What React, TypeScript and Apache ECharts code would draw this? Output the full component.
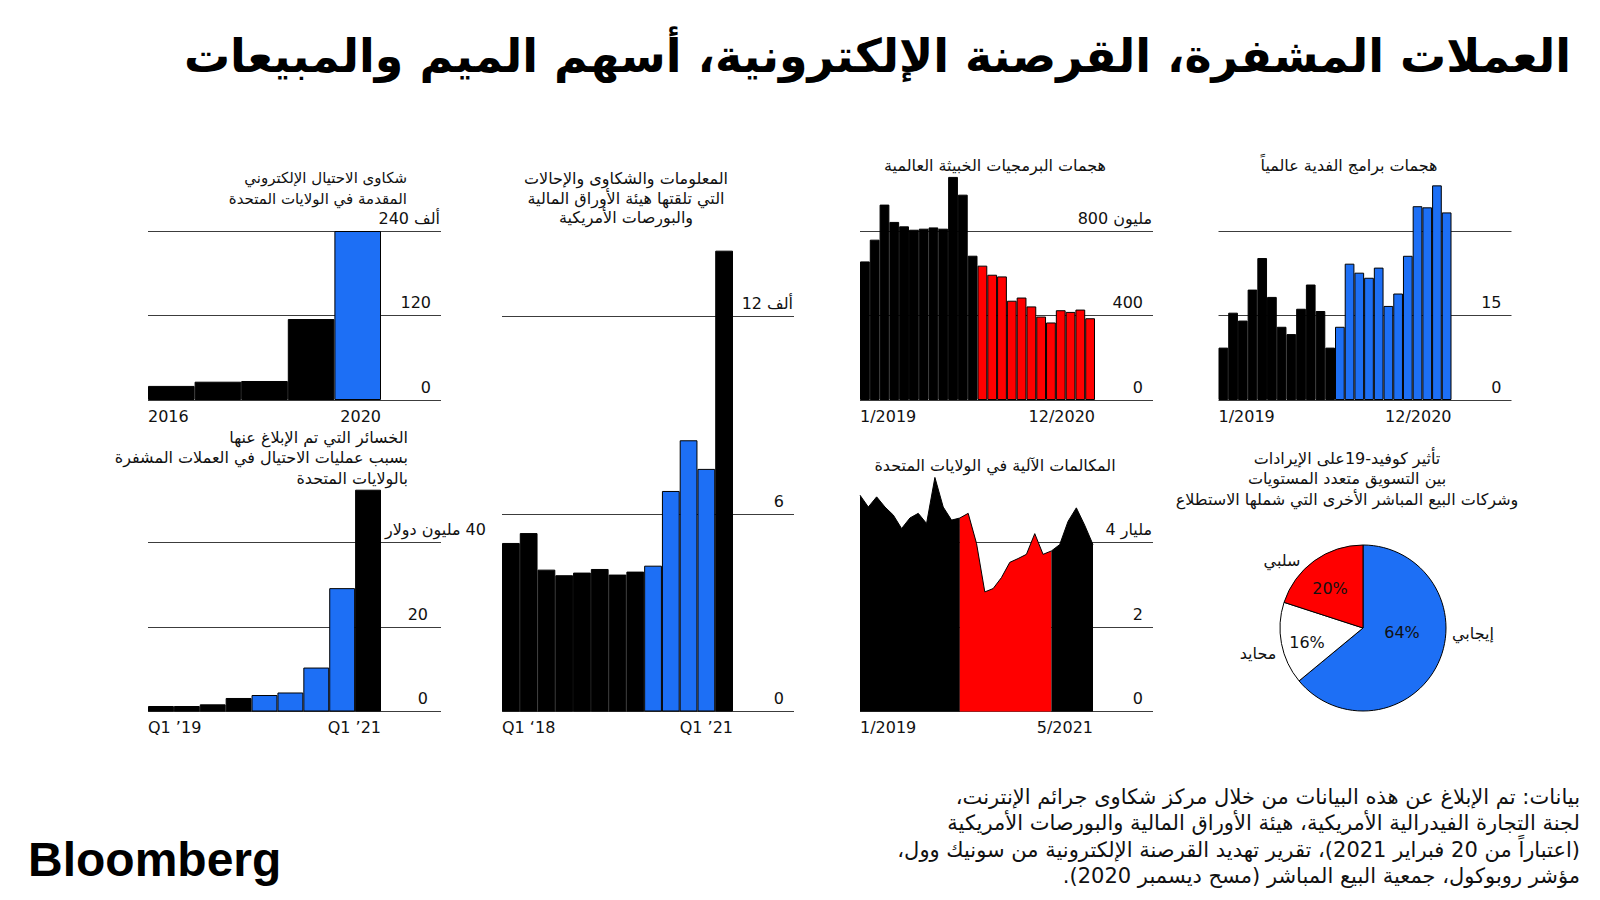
import React, { useEffect, useRef } from 'react';
import * as echarts from 'echarts';

// ---------- colours & fonts ----------
const BLUE = '#1d6ff5';
const RED = '#ff0000';
const INK = '#111111';
const GRID_LINE = '#3c3c3c';
const LATIN = "'DejaVu Sans', 'Liberation Sans', sans-serif";
const ARABIC = "'DejaVu Sans', sans-serif";
const LOGO_FONT = "'Liberation Sans', Arial, sans-serif";

const RTL = (s: string) => '\u202B' + s + '\u202C';

// ---------- data ----------
// Panel 1: internet fraud complaints filed in the US (thousands)
const IC3_YEARS = ['2016', '2017', '2018', '2019', '2020'];
const IC3_COMPLAINTS = [20, 26, 27, 115, 240];
const IC3_TICKS = ['0', '120', '240 ألف'];
const IC3_X_LABELS = ['2016', '2020'];

// Panel 2: reported crypto fraud losses in the US ($ millions)
const CRYPTO_QUARTERS = ['Q1 2019', 'Q2 2019', 'Q3 2019', 'Q4 2019', 'Q1 2020', 'Q2 2020', 'Q3 2020', 'Q4 2020', 'Q1 2021'];
const CRYPTO_LOSSES = [1.3, 1.3, 1.7, 3.2, 3.9, 4.5, 10.4, 29.2, 52.5];
const CRYPTO_TICKS = ['0', '20', '40 مليون دولار'];
const CRYPTO_X_LABELS = ['Q1 \u201919', 'Q1 \u201921'];

// Panel 3: SEC tips, complaints and referrals (thousands)
const SEC_QUARTERS = ['Q1 2018', 'Q2 2018', 'Q3 2018', 'Q4 2018', 'Q1 2019', 'Q2 2019', 'Q3 2019', 'Q4 2019', 'Q1 2020', 'Q2 2020', 'Q3 2020', 'Q4 2020', 'Q1 2021'];
const SEC_TIPS = [5.12, 5.42, 4.31, 4.14, 4.22, 4.33, 4.16, 4.25, 4.43, 6.7, 8.24, 7.37, 14.0];
const SEC_TICKS = ['0', '6', '12 ألف'];
const SEC_X_LABELS = ['Q1 \u201818', 'Q1 \u201921'];

// Panel 4: global malware attacks (millions)
const MONTHS_19_20 = ['1/2019', '2/2019', '3/2019', '4/2019', '5/2019', '6/2019', '7/2019', '8/2019', '9/2019', '10/2019', '11/2019', '12/2019', '1/2020', '2/2020', '3/2020', '4/2020', '5/2020', '6/2020', '7/2020', '8/2020', '9/2020', '10/2020', '11/2020', '12/2020'];
const MALWARE = [656, 759, 925, 843, 822, 806, 811, 817, 811, 1056, 972, 683, 636, 593, 585, 470, 485, 443, 395, 367, 425, 417, 428, 387];
const MALWARE_TICKS = ['0', '400', '800 مليون'];
const MALWARE_X_LABELS = ['1/2019', '12/2020'];

// Panel 5: global ransomware attacks (millions)
const RANSOMWARE = [9.3, 15.5, 14.1, 19.6, 25.2, 18.3, 13.0, 11.7, 16.2, 20.5, 15.8, 9.3, 13.0, 24.2, 22.6, 21.7, 23.5, 16.7, 18.9, 25.6, 34.4, 34.2, 38.1, 33.3];
const RANSOMWARE_TICKS = ['0', '15', ''];
const RANSOMWARE_X_LABELS = ['1/2019', '12/2020'];

// Panel 6: US robocalls (billions)
const MONTHS_19_21 = ['1/2019', '2/2019', '3/2019', '4/2019', '5/2019', '6/2019', '7/2019', '8/2019', '9/2019', '10/2019', '11/2019', '12/2019', '1/2020', '2/2020', '3/2020', '4/2020', '5/2020', '6/2020', '7/2020', '8/2020', '9/2020', '10/2020', '11/2020', '12/2020', '1/2021', '2/2021', '3/2021', '4/2021', '5/2021'];
const ROBOCALLS = [5.12, 4.84, 5.08, 4.84, 4.65, 4.33, 4.58, 4.69, 4.45, 5.54, 4.84, 4.53, 4.58, 4.69, 3.98, 2.83, 2.91, 3.17, 3.53, 3.62, 3.72, 4.21, 3.72, 3.8, 3.95, 4.5, 4.82, 4.41, 3.95];
const ROBOCALL_TICKS = ['0', '2', '4 مليار'];
const ROBOCALL_X_LABELS = ['1/2019', '5/2021'];

// Panel 7: Covid-19 impact on revenue (%)
const PIE_NAMES = ['إيجابي', 'محايد', 'سلبي'];
const PIE_VALUES = [64, 16, 20];
const PIE_COLORS = [BLUE, '#ffffff', RED];

// ---------- texts ----------
const MAIN_TITLE = 'العملات المشفرة، القرصنة الإلكترونية، أسهم الميم والمبيعات';
const T1 = ['شكاوى الاحتيال الإلكتروني', 'المقدمة في الولايات المتحدة'];
const T2 = ['الخسائر التي تم الإبلاغ عنها', 'بسبب عمليات الاحتيال في العملات المشفرة', 'بالولايات المتحدة'];
const T3 = ['المعلومات والشكاوى والإحالات', 'التي تلقتها هيئة الأوراق المالية', 'والبورصات الأمريكية'];
const T4 = 'هجمات البرمجيات الخبيثة العالمية';
const T5 = 'هجمات برامج الفدية عالمياً';
const T6 = 'المكالمات الآلية في الولايات المتحدة';
const T7 = ['تأثير كوفيد-19على الإيرادات', 'بين التسويق متعدد المستويات', 'وشركات البيع المباشر الأخرى التي شملها الاستطلاع'];
const SOURCE = [
  'بيانات: تم الإبلاغ عن هذه البيانات من خلال مركز شكاوى جرائم الإنترنت،',
  'لجنة التجارة الفيدرالية الأمريكية، هيئة الأوراق المالية والبورصات الأمريكية',
  '(اعتباراً من 20 فبراير 2021)، تقرير تهديد القرصنة الإلكترونية من سونيك وول،',
  'مؤشر روبوكول، جمعية البيع المباشر (مسح ديسمبر 2020).',
];

// ---------- layout ----------
type Panel = {
  left: number; top: number; height: number; plotWidth: number; gridWidth: number;
  max: number; interval: number; ticks: string[]; xLabels: string[];
  cats: string[]; values: number[]; hi: string; kind: 'bar' | 'area';
  labelsByBars?: boolean; numberRight?: boolean;
};

const PANELS: Panel[] = [
  { left: 148, top: 231, height: 169, plotWidth: 233, gridWidth: 293, max: 240, interval: 120, ticks: IC3_TICKS, xLabels: IC3_X_LABELS, cats: IC3_YEARS, values: IC3_COMPLAINTS, hi: BLUE, kind: 'bar' },
  { left: 148, top: 542.5, height: 169, plotWidth: 233, gridWidth: 293, max: 40, interval: 20, ticks: CRYPTO_TICKS, xLabels: CRYPTO_X_LABELS, cats: CRYPTO_QUARTERS, values: CRYPTO_LOSSES, hi: BLUE, kind: 'bar', labelsByBars: true, numberRight: true },
  { left: 502, top: 316.5, height: 395, plotWidth: 231, gridWidth: 292, max: 12, interval: 6, ticks: SEC_TICKS, xLabels: SEC_X_LABELS, cats: SEC_QUARTERS, values: SEC_TIPS, hi: BLUE, kind: 'bar' },
  { left: 860, top: 231, height: 169, plotWidth: 235, gridWidth: 293, max: 800, interval: 400, ticks: MALWARE_TICKS, xLabels: MALWARE_X_LABELS, cats: MONTHS_19_20, values: MALWARE, hi: RED, kind: 'bar' },
  { left: 1218.5, top: 231, height: 169, plotWidth: 233, gridWidth: 293, max: 30, interval: 15, ticks: RANSOMWARE_TICKS, xLabels: RANSOMWARE_X_LABELS, cats: MONTHS_19_20, values: RANSOMWARE, hi: BLUE, kind: 'bar' },
  { left: 860, top: 542.5, height: 169, plotWidth: 233, gridWidth: 293, max: 4, interval: 2, ticks: ROBOCALL_TICKS, xLabels: ROBOCALL_X_LABELS, cats: MONTHS_19_21, values: ROBOCALLS, hi: RED, kind: 'area' },
];

const PIE_CENTER = [1363, 628];
const PIE_RADIUS = 83;
const PIE_PCT_OFFSETS = [[39, 4], [-56, 14], [-33, -40]];
const PIE_NAME_OFFSETS = [[89, 5, 'left'], [-105, 25, 'center'], [-81, -68, 'center']];

const isHi = (c: string) => c.indexOf('2020') >= 0;

function buildOption() {
  const grid: any[] = [];
  const xAxis: any[] = [];
  const yAxis: any[] = [];
  const series: any[] = [];

  PANELS.forEach((p) => {
    const gB = grid.length;
    grid.push({ left: p.left, top: p.top, width: p.gridWidth, height: p.height });
    const gA = grid.length;
    grid.push({ left: p.left, top: p.top, width: p.plotWidth, height: p.height });

    // tick label: number and unit are separate rich tokens so that their
    // visual order is fixed whatever the bidi context is
    const richFmt = (v: number) => {
      const t = p.ticks[Math.round(v / p.interval)] ?? '';
      if (!t) return '';
      const m = t.match(/^(\d+)\s+(.+)$/);
      if (!m) return `{n|${t}}`;
      return p.numberRight ? `{a|${m[2]} }{d|${m[1]}}` : `{d|${m[1]} }{a|${m[2]}}`;
    };
    const base = { fontSize: 16, fontFamily: LATIN, color: INK };

    // gridline axes (full width)
    xAxis.push({ gridIndex: gB, type: 'value', min: 0, max: 1, show: false });
    yAxis.push({
      gridIndex: gB, type: 'value', min: 0, max: p.max, interval: p.interval, position: 'right',
      axisLine: { show: false }, axisTick: { show: false },
      splitLine: { show: true, lineStyle: { color: GRID_LINE, width: 1 } },
      axisLabel: p.labelsByBars ? { show: false } : {
        show: true, inside: true, margin: 0, align: 'right', verticalAlign: 'bottom',
        formatter: richFmt, ...base,
        rich: {
          d: { ...base, padding: [0, 0, 5, 0] },
          a: { ...base, padding: [0, 1, 5, 0] },
          n: { ...base, padding: [0, 10, 5, 0] },
        },
      },
    });

    // plot axes
    const catX = xAxis.length;
    xAxis.push({
      gridIndex: gA, type: 'category', data: p.cats, boundaryGap: p.kind === 'bar',
      axisLine: { show: false }, axisTick: { show: false }, axisLabel: { show: false }, splitLine: { show: false },
    });
    xAxis.push({
      gridIndex: gA, type: 'value', min: 0, max: 1, interval: 1, position: 'bottom',
      axisLine: { show: false }, axisTick: { show: false }, splitLine: { show: false },
      axisLabel: {
        show: true, margin: 8, ...base,
        alignMinLabel: 'left', alignMaxLabel: 'right',
        formatter: (v: number) => (v === 0 ? p.xLabels[0] : p.xLabels[1]),
      },
    });
    const yA = yAxis.length;
    yAxis.push({
      gridIndex: gA, type: 'value', min: 0, max: p.max, interval: p.interval, position: 'right',
      axisLine: { show: false }, axisTick: { show: false }, splitLine: { show: false },
      axisLabel: p.labelsByBars ? {
        show: true, inside: false, margin: 4, align: 'left', verticalAlign: 'bottom',
        formatter: richFmt, ...base,
        rich: {
          d: { ...base, padding: [0, 0, 5, 0] },
          a: { ...base, padding: [0, 0, 5, 0] },
          n: { ...base, width: 43, align: 'right', padding: [0, 0, 5, 0] },
        },
      } : { show: false },
    });

    if (p.kind === 'bar') {
      series.push({
        type: 'bar', xAxisIndex: catX, yAxisIndex: yA, silent: true, clip: false,
        barCategoryGap: '0%', barGap: '0%',
        itemStyle: { borderColor: '#000', borderWidth: 1 },
        data: p.values.map((v, i) => ({ value: v, itemStyle: { color: isHi(p.cats[i]) ? p.hi : '#000' } })),
      });
    } else {
      const first = p.cats.findIndex(isHi);
      let last = -1;
      p.cats.forEach((c, i) => { if (isHi(c)) last = i; });
      const segs: [number, number, string][] = [
        [0, first, '#000'],
        [first, last, p.hi],
        [last, p.cats.length - 1, '#000'],
      ];
      segs.forEach(([a, b, col]) => {
        series.push({
          type: 'line', xAxisIndex: catX, yAxisIndex: yA, silent: true, clip: false,
          symbol: 'none', connectNulls: false,
          lineStyle: { color: '#000', width: 1 },
          areaStyle: { color: col, opacity: 1 },
          data: p.values.map((v, i) => (i >= a && i <= b ? v : null)),
        });
      });
    }
  });

  // pie: percentages inside
  series.push({
    type: 'pie', center: PIE_CENTER, radius: PIE_RADIUS, startAngle: 90, clockwise: true, silent: true,
    itemStyle: { borderColor: '#000', borderWidth: 1 },
    data: PIE_NAMES.map((n, i) => ({ name: n, value: PIE_VALUES[i], itemStyle: { color: PIE_COLORS[i] } })),
    label: { show: true, position: 'inside', formatter: (q: any) => `${q.value}%`, color: INK, fontSize: 16, fontFamily: LATIN },
    labelLine: { show: false },
    labelLayout: (q: any) => ({
      x: PIE_CENTER[0] + PIE_PCT_OFFSETS[q.dataIndex][0],
      y: PIE_CENTER[1] + PIE_PCT_OFFSETS[q.dataIndex][1],
      align: 'center', verticalAlign: 'middle',
    }),
  });
  // pie: names outside
  series.push({
    type: 'pie', center: PIE_CENTER, radius: PIE_RADIUS, startAngle: 90, clockwise: true, silent: true,
    itemStyle: { color: 'transparent', borderWidth: 0 },
    data: PIE_NAMES.map((n, i) => ({ name: n, value: PIE_VALUES[i] })),
    label: { show: true, position: 'outside', formatter: '{b}', color: INK, fontSize: 16, fontFamily: ARABIC },
    labelLine: { show: false },
    labelLayout: (q: any) => ({
      x: PIE_CENTER[0] + (PIE_NAME_OFFSETS[q.dataIndex][0] as number),
      y: PIE_CENTER[1] + (PIE_NAME_OFFSETS[q.dataIndex][1] as number),
      align: PIE_NAME_OFFSETS[q.dataIndex][2], verticalAlign: 'middle',
    }),
  });

  const txt = (x: number, y: number, text: string, opts: any = {}) => ({
    type: 'text', x, y, silent: true,
    style: {
      text, fill: INK, fontSize: 16, fontFamily: ARABIC,
      align: 'center', verticalAlign: 'top', lineHeight: 20, ...opts,
    },
  });

  const graphic = [
    txt(1571, 56, MAIN_TITLE, { fontSize: 46, fontWeight: 'bold', align: 'right', verticalAlign: 'middle', fill: '#000', lineHeight: 52 }),
    txt(407, 168, T1.join('\n'), { align: 'right', fontSize: 15, lineHeight: 20.5 }),
    txt(408, 427, T2.join('\n'), { align: 'right', lineHeight: 20.5 }),
    txt(626, 169, T3.join('\n'), { align: 'center', lineHeight: 19.5 }),
    txt(995, 165, T4, { verticalAlign: 'middle' }),
    txt(1349, 165, T5, { verticalAlign: 'middle' }),
    txt(995, 465, T6, { verticalAlign: 'middle' }),
    txt(1347, 448, T7.join('\n'), { lineHeight: 20.5 }),
    txt(1580, 784, SOURCE.map(RTL).join('\n'), { align: 'right', fontSize: 21, lineHeight: 26.2 }),
    txt(28, 859, 'Bloomberg', { align: 'left', verticalAlign: 'middle', fontSize: 48, fontWeight: 'bold', fontFamily: LOGO_FONT, fill: '#000', lineHeight: 50 }),
  ];

  return { animation: false, backgroundColor: '#ffffff', grid, xAxis, yAxis, series, graphic };
}

export default function App() {
  const ref = useRef<HTMLDivElement>(null);
  useEffect(() => {
    if (!ref.current) return;
    const chart = echarts.init(ref.current, undefined, { renderer: 'svg' });
    chart.setOption(buildOption() as any);
    return () => chart.dispose();
  }, []);
  return (
    <div
      ref={ref}
      style={{ position: 'fixed', left: 0, top: 0, width: 1600, height: 900, background: '#fff' }}
    />
  );
}
